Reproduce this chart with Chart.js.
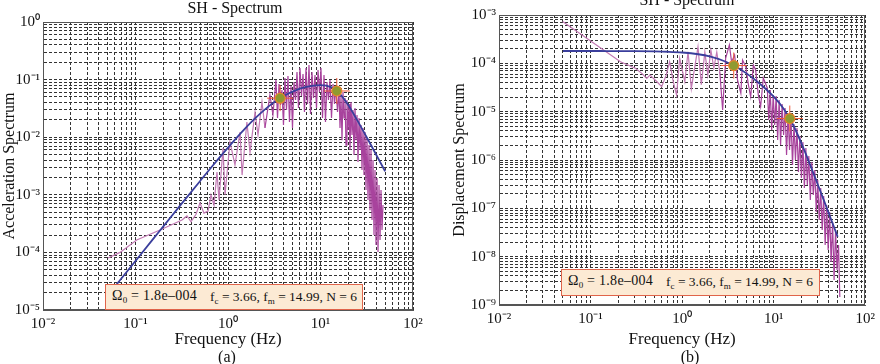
<!DOCTYPE html>
<html>
<head>
<meta charset="utf-8">
<script src="https://cdn.jsdelivr.net/npm/chart.js@4.4.1/dist/chart.umd.min.js"></script>
<style>
  body { margin: 0; background: #fff; width: 880px; height: 364px; position: relative; overflow: hidden;
         font-family: "Liberation Serif", "Times New Roman", serif; color: #111; }
  .panel { position: absolute; top: 0; width: 440px; height: 364px; }
  .lbl { position: absolute; font-size: 16px; line-height: 16px; text-align: center; width: 200px; white-space: nowrap; }
  .note { position: absolute; box-sizing: border-box; background: #fcead4; border: 1.5px solid #e0644a;
          font-size: 14px; white-space: nowrap; z-index: 2; }
  .note span { position: absolute; top: 3px; }
  .note .a { letter-spacing: 0.3px; }
  .note .b { font-size: 13.5px; top: 3.5px; }
  .note sub { font-size: 9px; vertical-align: -3px; letter-spacing: 0; }
</style>
</head>
<body>
<div class="panel" style="left:0"><canvas id="accChart" width="440" height="364"></canvas></div>
<div class="panel" style="left:440px"><canvas id="dispChart" width="440" height="364"></canvas></div>

<div class="lbl" style="left:135px; top:0px">SH - Spectrum</div>
<div class="lbl" style="left:587px; top:-8px">SH - Spectrum</div>
<div class="lbl" style="left:127px; top:349px">(a)</div>
<div class="lbl" style="left:590px; top:349px">(b)</div>

<div class="note" style="left:105px; top:284px; width:258px; height:26px">
  <span class="a" style="left:6px">Ω<sub>0</sub> = 1.8e–004</span><span class="b" style="left:104px">f<sub>c</sub> = 3.66, f<sub>m</sub> = 14.99, N = 6</span>
</div>
<div class="note" style="left:561px; top:269px; width:259px; height:27px">
  <span class="a" style="left:6px">Ω<sub>0</sub> = 1.8e–004</span><span class="b" style="left:104px">f<sub>c</sub> = 3.66, f<sub>m</sub> = 14.99, N = 6</span>
</div>

<script>
// axis decades (tick labels are 10^n)
const xDecades = [-2, -1, 0, 1, 2];
const accDecades = [-5, -4, -3, -2, -1, 0];
const dispDecades = [-9, -8, -7, -6, -5, -4, -3];

// corner / high-cut frequency markers
const cornerF = [3.66, 14.99];
const accCorner = [0.0476, 0.0634];
const dispCorner = [9.0e-5, 7.2e-6];

// fitted model curve
const fitF = [0.05, 0.07, 0.1, 0.15, 0.2, 0.3, 0.5, 0.7, 1, 1.5, 2, 3, 4, 5, 7, 10, 13, 16, 20, 25, 30, 35, 40, 45, 50];
const accFit = [1.78e-5, 3.48e-5, 7.1e-5, 1.6e-4, 2.83e-4, 6.35e-4, 1.74e-3, 3.36e-3, 6.61e-3, 1.37e-2, 2.19e-2,
  3.83e-2, 5.18e-2, 6.19e-2, 7.44e-2, 8.05e-2, 7.39e-2, 5.75e-2, 3.58e-2, 1.96e-2, 1.16e-2, 7.4e-3, 4.96e-3, 3.49e-3, 2.55e-3];
const dispFit = [1.8e-4, 1.8e-4, 1.8e-4, 1.797e-4, 1.795e-4, 1.788e-4, 1.767e-4, 1.736e-4, 1.675e-4, 1.541e-4, 1.386e-4,
  1.077e-4, 8.2e-5, 6.27e-5, 3.83e-5, 2.04e-5, 1.11e-5, 5.69e-6, 2.26e-6, 7.96e-7, 3.27e-7, 1.53e-7, 7.86e-8, 4.37e-8, 2.58e-8];

// observed acceleration spectrum
const accF = [0.0505, 0.068, 0.103, 0.184, 0.318, 0.36, 0.398, 0.451, 0.498, 0.55, 0.608, 0.655, 0.706, 0.76, 0.80,
  0.883, 0.929, 1.05, 1.19, 1.35, 1.42, 1.60, 1.73, 1.96, 2.11, 2.33, 2.51, 2.84, 3.06,
  3.30, 3.43, 3.56, 3.70, 3.83, 3.98, 4.13, 4.29, 4.45, 4.62, 4.80, 4.98, 5.17, 5.37, 5.57, 5.78, 6.00, 6.23, 6.47,
  6.71, 6.97, 7.24, 7.51, 7.80, 8.09, 8.40, 8.72, 9.05, 9.40, 9.75, 10.12, 10.51, 10.91, 11.32, 11.75, 12.20, 12.66,
  13.15, 13.65, 14.17, 14.71, 15.27,
  15.85, 16.25, 16.66, 17.08, 17.51, 17.95, 18.40, 18.87, 19.34, 19.83, 20.33, 20.84, 21.37, 21.91, 22.46, 23.03,
  23.61, 24.20, 24.81, 25.44, 26.08, 26.74, 27.41, 28.10, 28.81, 29.54, 30.28, 31.05, 31.83, 32.63, 33.45, 34.30,
  35.16, 36.05, 36.96, 37.89, 38.84, 39.82, 40.83, 41.86, 42.91, 43.99, 45.10, 46.24, 47.40];
const accV = [8.0e-5, 1.0e-4, 1.64e-4, 2.45e-4, 3.65e-4, 4.3e-4, 3.4e-4, 4.6e-4, 7.2e-4, 4.8e-4, 5.2e-4, 9.9e-4, 6.65e-4,
  2.49e-3, 8.1e-4, 6.5e-3, 1.0e-3, 8.3e-3, 3.3e-3, 1.23e-2, 2.2e-3, 1.84e-2, 5.5e-3, 2.74e-2, 1.09e-2, 4.1e-2, 1.45e-2,
  5.4e-2, 2.43e-2,
  0.0984, 0.0215, 0.0839, 0.0362, 0.066, 0.0163, 0.1066, 0.0297, 0.1155, 0.0184, 0.0774, 0.0144, 0.0908, 0.0442,
  0.1355, 0.0321, 0.159, 0.0519, 0.125, 0.0274, 0.159, 0.0377, 0.1793, 0.0253, 0.1355, 0.0479, 0.1202, 0.0321,
  0.1468, 0.0609, 0.159, 0.0215, 0.1202, 0.0184, 0.0908, 0.0442, 0.0984, 0.0215, 0.0839, 0.0377, 0.0715, 0.0274,
  0.066, 0.0144, 0.0519, 0.0089, 0.061, 0.0216, 0.048, 0.0073, 0.0443, 0.0133, 0.0377, 0.0060, 0.0408, 0.0109, 0.0297,
  0.0049, 0.0321, 0.0089, 0.0243, 0.0037, 0.0216, 0.0060, 0.0163, 0.0027, 0.0144, 0.0022, 0.0123, 0.00121, 0.0097,
  0.00081, 0.0073, 0.00054, 0.0060, 0.000365, 0.0040, 0.0002, 0.0027, 0.000135, 0.00196, 0.000102, 0.00148, 0.000164,
  0.00121, 0.000245, 0.000665];

// observed displacement spectrum
const dispF = [0.0495, 0.212, 0.308, 0.363, 0.411, 0.445, 0.528, 0.598, 0.67, 0.73, 0.80, 0.87, 0.94, 1.07, 1.16, 1.26,
  1.49, 1.62, 1.77, 1.91, 2.06, 2.22, 2.39, 2.58, 2.77, 2.99, 3.28, 3.47, 3.74, 4.03, 4.38, 4.57, 4.96, 5.30, 5.61, 6.0,
  6.35, 6.80, 7.2, 7.70,
  8.51, 8.83, 9.17, 9.51, 9.88, 10.25, 10.64, 11.05, 11.47, 11.90, 12.36, 12.83, 13.31, 13.82, 14.35, 14.89, 15.46,
  16.05, 16.66, 17.29, 17.95, 18.63, 19.34, 20.08, 20.84, 21.63, 22.46, 23.31, 24.20, 25.12, 26.08, 27.07, 28.10,
  29.17, 30.28, 31.43, 32.63, 33.87, 35.16, 36.50, 37.89, 39.33, 40.83, 42.38, 43.99, 45.67, 47.40, 49.20, 51.08, 52.75];
const dispV = [7.3e-4, 1.08e-4, 7.9e-5, 6.2e-5, 4.9e-5, 5.7e-5, 4.2e-5, 3.3e-5, 5.7e-5, 1.08e-4, 4.2e-5, 2.2e-5,
  1.27e-4, 4.2e-5, 1.74e-4, 3.0e-5, 2.2e-4, 3.6e-5, 1.71e-4, 5.7e-5, 1.89e-4, 8.0e-5, 1.71e-4, 6.6e-5, 1.08e-5,
  1.29e-4, 2.4e-4, 1.07e-4, 1.49e-4, 4.5e-5, 2.4e-5, 1.17e-4, 8.5e-5, 3.56e-5, 2.04e-5, 9.2e-5, 7.3e-5, 2.2e-5,
  1.27e-5, 4.97e-5,
  3.09e-5, 6.72e-6, 2.81e-5, 4.17e-6, 2.21e-5, 5.30e-6, 2.11e-5, 2.59e-6, 1.74e-5, 2.04e-6, 1.44e-5, 3.29e-6, 1.19e-5,
  1.27e-6, 8.95e-6, 1.61e-6, 7.39e-6, 7.87e-7, 5.56e-6, 1.0e-6, 4.59e-6, 5.64e-7, 3.14e-6, 4.24e-7, 2.36e-6, 2.63e-7,
  1.77e-6, 3.04e-7, 1.21e-6, 1.49e-7, 9.09e-7, 1.89e-7, 6.21e-7, 8.39e-8, 3.85e-7, 5.73e-8, 2.63e-7, 3.56e-8, 1.80e-7,
  1.74e-8, 1.17e-7, 1.37e-8, 8.39e-8, 7.75e-9, 5.21e-8, 3.29e-9, 3.56e-8, 5.29e-9, 1.74e-8, 1.46e-9];

const family = '"Liberation Serif", "Times New Roman", serif';
const supMap = { '-': '\u207B', '0': '\u2070', '1': '\u00B9', '2': '\u00B2', '3': '\u00B3', '4': '\u2074',
  '5': '\u2075', '6': '\u2076', '7': '\u2077', '8': '\u2078', '9': '\u2079' };

function powLabel(value) {
  const e = Math.log10(value);
  if (Math.abs(e - Math.round(e)) > 1e-6) return '';
  return '10' + String(Math.round(e)).split('').map(c => supMap[c]).join('');
}

// 1..9 x 10^n grid, up to the last decade
function logTicks(decades) {
  const out = [];
  decades.forEach((e, i) => {
    const last = i === decades.length - 1;
    for (let m = 1; m <= (last ? 1 : 9); m++) out.push(m * Math.pow(10, e));
  });
  return out;
}

const pts = (xs, ys) => xs.map((x, i) => ({ x, y: ys[i] }));

const framePlugin = {
  id: 'frame',
  afterDatasetsDraw(chart) {
    const { ctx, chartArea: a } = chart;
    ctx.save();
    ctx.strokeStyle = '#555';
    ctx.lineWidth = 1;
    ctx.strokeRect(Math.round(a.left) + 0.5, Math.round(a.top) + 0.5,
      Math.round(a.right - a.left) - 1, Math.round(a.bottom - a.top) - 1);
    ctx.restore();
  }
};

// thin low-frequency part looks paler than the dense band
const obsColor = ctx => (ctx.p0.parsed.x < 2.5 ? '#c27ab4' : '#a8439d');

function makeChart(id, cfg) {
  const axisGrid = { color: '#333', lineWidth: 1, drawTicks: false };
  const axisBorder = { display: true, color: '#555', dash: [3, 2] };
  new Chart(document.getElementById(id), {
    type: 'scatter',
    data: {
      datasets: [
        {
          data: pts(cornerF, cfg.corner), pointStyle: 'circle', pointRadius: 5,
          backgroundColor: '#8f9a30', borderColor: '#e8842c', borderWidth: 1.2, order: 0
        },
        {
          data: pts(cornerF, cfg.corner), pointStyle: 'cross', pointRadius: 13,
          borderColor: '#ec5a3c', borderWidth: 1, order: 1
        },
        {
          data: pts(fitF, cfg.fit), showLine: true, pointRadius: 0, borderColor: '#3a3e9c',
          borderWidth: 1.8, cubicInterpolationMode: 'monotone', order: 2
        },
        {
          data: pts(cfg.obsF, cfg.obsV), showLine: true, pointRadius: 0, borderColor: '#a8439d',
          borderWidth: 1.2, tension: 0, order: 3, segment: { borderColor: obsColor }
        }
      ]
    },
    options: {
      responsive: false,
      animation: false,
      events: [],
      layout: { padding: { left: 0, top: cfg.padTop, right: cfg.padRight, bottom: 14 } },
      plugins: { legend: { display: false }, tooltip: { enabled: false } },
      scales: {
        x: {
          type: 'logarithmic', min: 0.01, max: 100,
          afterBuildTicks: s => { s.ticks = logTicks(xDecades).map(value => ({ value })); },
          afterFit: s => { s.height = cfg.xHeight; },
          ticks: { autoSkip: false, maxRotation: 0, padding: 5, color: '#111', font: { family, size: 15 }, callback: powLabel },
          grid: axisGrid,
          border: axisBorder,
          title: { display: true, text: 'Frequency (Hz)', color: '#111', font: { family, size: 17 }, padding: 0 }
        },
        y: {
          type: 'logarithmic', min: Math.pow(10, cfg.decades[0]), max: Math.pow(10, cfg.decades[cfg.decades.length - 1]),
          afterBuildTicks: s => { s.ticks = logTicks(cfg.decades).map(value => ({ value })); },
          afterFit: s => { s.width = cfg.yWidth; },
          ticks: { autoSkip: false, padding: 3, color: '#111', font: { family, size: 15 }, callback: powLabel },
          grid: axisGrid,
          border: axisBorder,
          title: { display: true, text: cfg.yTitle, color: '#111', font: { family, size: 16 }, padding: { top: cfg.titlePad, bottom: 0 } }
        }
      }
    },
    plugins: [framePlugin]
  });
}

makeChart('accChart', {
  decades: accDecades, yTitle: 'Acceleration Spectrum', yWidth: 43, padTop: 22, padRight: 27, xHeight: 40,
  titlePad: 0, corner: accCorner, fit: accFit, obsF: accF, obsV: accV
});

makeChart('dispChart', {
  decades: dispDecades, yTitle: 'Displacement Spectrum', yWidth: 59, padTop: 15, padRight: 11, xHeight: 45,
  titlePad: 10, corner: dispCorner, fit: dispFit, obsF: dispF, obsV: dispV
});
</script>
</body>
</html>
